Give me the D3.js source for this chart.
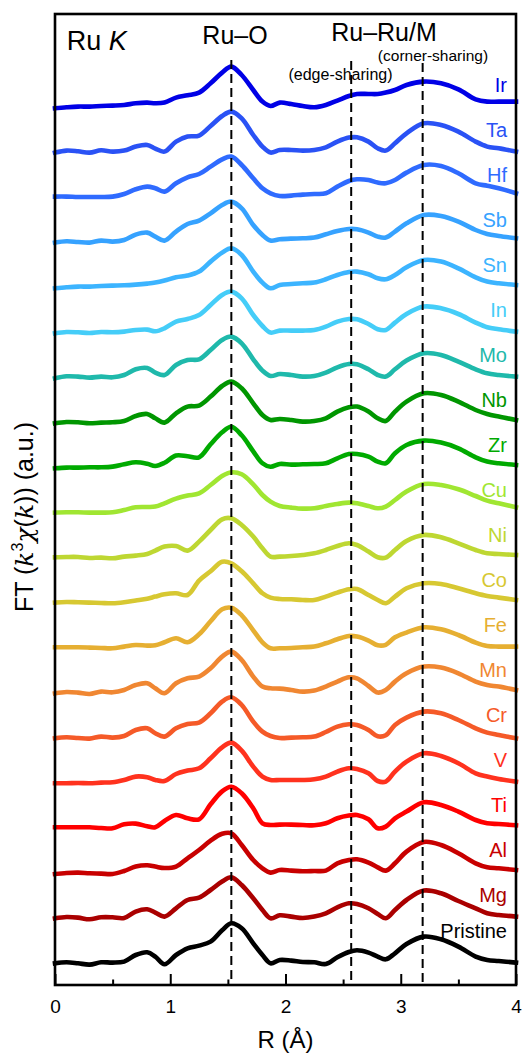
<!DOCTYPE html>
<html>
<head>
<meta charset="utf-8">
<script src="https://d3js.org/d3.v7.min.js"></script>
<style>
  html, body { margin: 0; padding: 0; background: #fff; }
  svg { display: block; font-family: "Liberation Sans", Arial, sans-serif; }
</style>
</head>
<body>
<svg id="chart" width="525" height="1055"></svg>
<script>
// R grid (Å) the spectra were read on
const rGrid = [0, 0.1, 0.2, 0.3, 0.4, 0.5, 0.6, 0.7, 0.8, 0.87, 0.95, 1.05, 1.15, 1.25, 1.35, 1.45, 1.53, 1.62, 1.72, 1.8,
               1.87, 1.95, 2.05, 2.15, 2.25, 2.35, 2.45, 2.55, 2.62, 2.72, 2.8, 2.87, 2.95, 3.05, 3.2, 3.35, 3.5, 3.65, 3.75, 3.85, 4.0];

// bottom to top
const samples = ["Pristine", "Mg", "Al", "Ti", "V", "Cr", "Mn", "Fe", "Co", "Ni",
                 "Cu", "Zr", "Nb", "Mo", "In", "Sn", "Sb", "Hf", "Ta", "Ir"];

const sampleColors = ["#000000", "#aa0000", "#c80000", "#ff0000", "#ff321e", "#f55a28", "#f08732", "#e6af32", "#d7c832", "#bed732",
                      "#a0e632", "#00aa00", "#009600", "#1fb9ab", "#45cdf8", "#3cb4ff", "#36a2ff", "#2f6bff", "#2a52f5", "#0000e6"];

// |FT(k^3 chi(k))|, a.u., one row per sample (same order as samples)
const ftMagnitude = [
  [0,1,0,-1.3,1,0.7,1.7,8.3,11,6.7, -1,8.3,15,17.7,21.7,33,40,35,20,8.3, 0,3.3,2.7,1.3,1,-0.7,6,11.3,13,10.7, 6.7,4,10,19.3,26.7,24,16.7,6.7,3.3,2.3, 0.7],
  [0,1.3,0.7,-1,1,1,0.3,6.7,9,5.7, 1.7,10,18.3,20.7,28.3,36.7,41,33.3,20,8.3, 0,3,1.7,0.3,1.7,5,11,15,14.3,10, 4.3,0,8.3,18.3,27.7,25,17.3,10,5,3.3, 1.7],
  [-0.7,0.3,0.7,0,-0.3,-0.7,2.3,6.7,8,6.7, 5.3,6.7,15,23.3,32.7,39.5,40,28.3,13.3,5, 0.7,3.3,2.7,2,2.3,2.7,10,13.3,14,10.7, 6,2.7,10,21.7,31.3,28.3,20,10,6,5, 3.3],
  [1,1,1,1,0.3,0,4,4.7,2,1, 7.3,13.3,10,9,24,37,41.6,35,20,5, 3.3,3.7,3.7,3.3,3,5,10,12.7,13.3,9, 0,1.7,10,16.7,26,23.3,16.7,8.3,5,4.3, 3],
  [0,0,0.3,0,0.7,1,3.3,6.7,6,3.3, 2.3,9.3,12.7,15,25,36,40.7,32.7,16.7,6.7, 3.3,3.3,3.3,3.3,4,6.7,11.7,15,14.3,10, 2.3,1.7,11.7,21.7,30,27.3,20,10,6.7,4.3, 1.7],
  [0,1,0.3,-0.3,1.7,0.7,2.3,8.3,10,5, 1.7,10,14.3,15.7,25,36.7,41,33.3,16.7,6.7, 2.3,0.3,0.7,1,1.7,6.3,11.7,14,13.3,8.3, 2,3,13.3,20.7,26.7,25,18.3,10,5.7,3.3, 0],
  [0,1.3,0.7,-0.7,1.7,1,3.3,8.3,10,5, 0,10,15,16.7,25,36.7,41.7,33.3,16.7,6.7, 5,4.7,3.3,1.7,2.7,6.7,11.7,16,15,7.3, 0.7,3.3,11.7,20,26.7,25.7,20,11.7,8.3,6.7, 3.3],
  [1,1,1,0.7,0.3,0,1.7,3.3,2.7,3, 6,10,6,14,27,39,40.5,33,18,6, 0,0,0.3,1,1.7,5,9,12.3,11.7,7.7, 3,3.5,11,15.7,21,19,13.3,5.7,2.3,1.7, 1.7],
  [0.7,1.3,1,0.7,0.3,0,1,2.7,4.5,6.7, 9,10,8.3,22.7,32,41.5,40,32,20,10, 5.7,4.3,4,3.3,3.3,6.7,10.7,14,14.3,8.3, 3.3,0,6.7,15,20,19.3,15,10,7.3,5.7, 3.3],
  [1,1.3,1.3,0.3,0.7,0,1.7,2.7,4.3,7.7, 11.7,12.3,7.7,16.7,28.3,39,40,33.3,21.7,10, 1.7,1.7,2.3,3.3,5,8.3,12.3,15,13.3,6.7, 1,0.7,8.3,17.3,23.3,21,15,8.3,5,4.3, 3.3],
  [0.7,1,1,0.7,0.7,1,3.3,6,6.3,6.7, 10,14.7,17.7,20,28.3,37.3,41,39,29,18.3, 11.7,7.3,5.7,4.7,5,7.3,9.3,10.7,10,7.3, 5,6.7,13.3,21.7,29.3,28.3,24,17.3,12.7,10, 6],
  [0,0.7,0.7,1,1,1.7,4,6,4.5,2.3, 5.5,12.7,12,11,24,36,41.6,33,17,5, 1.5,4.3,3.7,4,4.3,5,10,14.3,14.3,11.7, 6.7,5,15,23.3,27.7,25.7,20,11,6.7,5, 3.3],
  [0,1.3,1,0,0.7,1,2.3,7.3,9.3,5, 0.7,10,16.7,17.7,26.7,37.3,41.7,35,20,8.3, 3.3,4.3,3.3,1.7,2.3,5,11.7,16,16.7,11.7, 5,2.3,11.7,21.7,30,28.3,21.7,13.3,9.3,6.7, 3.3],
  [0,2,1.7,0.7,1.7,1,3.3,9,10.3,5.7, 3.3,13.3,18.3,19,28.3,38.3,41.7,35,19,7.7, 2.3,4.3,3.3,1.7,2.3,5.7,11,14.3,14,9, 3.3,1.7,9,17.7,25,23.3,16.7,9,5,3.3, 1.7],
  [0,1.3,1,0.3,1.3,1,1.7,3.3,3.7,2, 5,11.7,14.3,18.3,28.3,38.3,41.7,35,18.3,7.3, 0.7,2.7,2.7,2.7,3.3,6.7,11.7,14.3,14,9.3, 4,3.3,10.7,19.3,26.7,25,19.3,10.7,6,4, 1.7],
  [0,1,1.7,1.7,2.3,2.7,3,3.7,4.7,5.7, 7.7,11,12.7,16.7,26.7,35.7,40,33.3,16.7,5.7, 0,3.3,4.3,5,5.7,9,13.3,16.3,16.7,14, 10,9,13.3,21,28.3,26.7,20,11,6.7,5, 3.3],
  [0.7,2,1.3,0.7,2.7,1.7,3.3,8.7,10.7,6.7, 2.7,11.7,19.3,22.7,30,38.3,41.7,35,18.3,8.3, 2.7,4,4.7,5,5.7,9,12.3,14.3,14,10.7, 6.7,5.7,11.7,20,28.3,27.3,21.7,13.3,9.3,7.3, 5],
  [1.7,1.7,1.3,1.3,1.3,1.7,4.3,9,11.7,10, 6.7,15,21,24.3,31.7,39,41.7,33.3,20,10, 5,2.3,2.7,3.7,4.3,5,11.7,17.3,19,18.3, 15.7,15,18.3,25.7,33.3,32.3,25,15,12.5,10, 5],
  [0.7,2.7,2,0.7,3,1.7,2.7,6.7,8.3,4.7, 1.7,11.7,16.7,17.7,27.3,37.3,41.7,35,18.3,6.7, 0.7,3.3,3.3,2.7,3.3,6,11.7,15.7,16,11.7, 5,2.7,10,20,30,28.3,21.7,11.7,6.7,5, 1.7],
  [0,1,1.7,1.7,2.3,2.7,3.3,5,5.7,5, 5.7,10.7,13,15.7,25,35.7,41.7,33.3,18.3,6.7, 2.3,5.7,4.3,2.3,1,3.3,7.7,12.3,14.3,14.3, 14.3,15.7,18.3,23.3,26.7,25,19,9,6.7,6.7, 6.7]
];

const xMajorTicks = [0, 1, 2, 3, 4];
const xMinorTicks = [0.5, 1.5, 2.5, 3.5];
const shellLines = [1.53, 2.57, 3.19];   // Ru-O, Ru-Ru/M edge, Ru-Ru/M corner
const offsetStep = 45;                   // vertical offset between spectra (a.u.)

const width = 525, height = 1055;
const margin = {top: 14, right: 9, bottom: 70, left: 55};

const svg = d3.select("#chart");

const x = d3.scaleLinear().domain([0, 4]).range([margin.left, width - margin.right]);
const y = d3.scaleLinear().domain([-21.7, 949.3]).range([height - margin.bottom, margin.top]);

const line = d3.line()
    .x(d => x(d[0]))
    .y(d => y(d[1]))
    .curve(d3.curveCatmullRom.alpha(0.5));

// spectra
samples.forEach((name, i) => {
    const pts = rGrid.map((r, j) => [r, ftMagnitude[i][j] + i * offsetStep]);
    svg.append("path")
        .attr("d", line(pts))
        .attr("fill", "none")
        .attr("stroke", sampleColors[i])
        .attr("stroke-width", 4.6)
        .attr("stroke-linecap", "square")
        .attr("stroke-linejoin", "round");

    svg.append("text")
        .attr("x", 507)
        .attr("y", y(i * offsetStep) - (name === "Pristine" ? 25 : 16))
        .attr("text-anchor", "end")
        .attr("font-size", 20)
        .attr("fill", sampleColors[i])
        .text(name);
});

// dashed guide lines
const guideTops = [60, 61, 63];
shellLines.forEach((r, k) => {
    svg.append("line")
        .attr("x1", x(r)).attr("x2", x(r))
        .attr("y1", guideTops[k]).attr("y2", y.range()[0])
        .attr("stroke", "#000")
        .attr("stroke-width", 2)
        .attr("stroke-dasharray", "9,5");
});

// frame
svg.append("rect")
    .attr("x", margin.left).attr("y", margin.top)
    .attr("width", width - margin.left - margin.right)
    .attr("height", height - margin.top - margin.bottom)
    .attr("fill", "none")
    .attr("stroke", "#000")
    .attr("stroke-width", 2.6);

// x axis, ticks pointing inward
const xAxis = svg.append("g")
    .attr("transform", `translate(0,${height - margin.bottom})`)
    .call(d3.axisBottom(x).tickValues(xMajorTicks).tickFormat(d3.format("d")).tickSize(-11).tickPadding(14.5));
xAxis.select(".domain").remove();
xAxis.selectAll("line").attr("stroke-width", 2);
xAxis.selectAll("text").attr("font-size", 19).attr("font-family", "Liberation Sans, Arial, sans-serif").attr("fill", "#000");

const xMinor = svg.append("g")
    .attr("transform", `translate(0,${height - margin.bottom})`)
    .call(d3.axisBottom(x).tickValues(xMinorTicks).tickFormat("").tickSize(-5.5));
xMinor.select(".domain").remove();
xMinor.selectAll("line").attr("stroke-width", 2);

svg.append("text")
    .attr("x", x(2)).attr("y", 1048)
    .attr("text-anchor", "middle")
    .attr("font-size", 24)
    .text("R (Å)");

// y axis title
const yTitle = svg.append("text")
    .attr("transform", "translate(33,517) rotate(-90)")
    .attr("text-anchor", "middle")
    .attr("font-size", 25);
yTitle.append("tspan").text("FT (");
yTitle.append("tspan").attr("font-family", "DejaVu Serif").attr("font-style", "italic").text("k");
yTitle.append("tspan").attr("font-size", 16).attr("dy", -10).text("3");
yTitle.append("tspan").attr("font-family", "DejaVu Serif").attr("font-style", "italic").attr("dy", 10).text("χ");
yTitle.append("tspan").text("(");
yTitle.append("tspan").attr("font-family", "DejaVu Serif").attr("font-style", "italic").text("k");
yTitle.append("tspan").text(")) (a.u.)");

// annotations
const title = svg.append("text").attr("x", 66.7).attr("y", 50).attr("font-size", 27);
title.append("tspan").text("Ru ");
title.append("tspan").attr("font-style", "italic").text("K");

svg.append("text").attr("x", 235).attr("y", 44).attr("text-anchor", "middle").attr("font-size", 25).text("Ru–O");
svg.append("text").attr("x", 384).attr("y", 40.5).attr("text-anchor", "middle").attr("font-size", 25).text("Ru–Ru/M");
svg.append("text").attr("x", 340.5).attr("y", 80).attr("text-anchor", "middle").attr("font-size", 16).text("(edge-sharing)");
svg.append("text").attr("x", 433).attr("y", 60.5).attr("text-anchor", "middle").attr("font-size", 15.5).text("(corner-sharing)");
</script>
</body>
</html>
